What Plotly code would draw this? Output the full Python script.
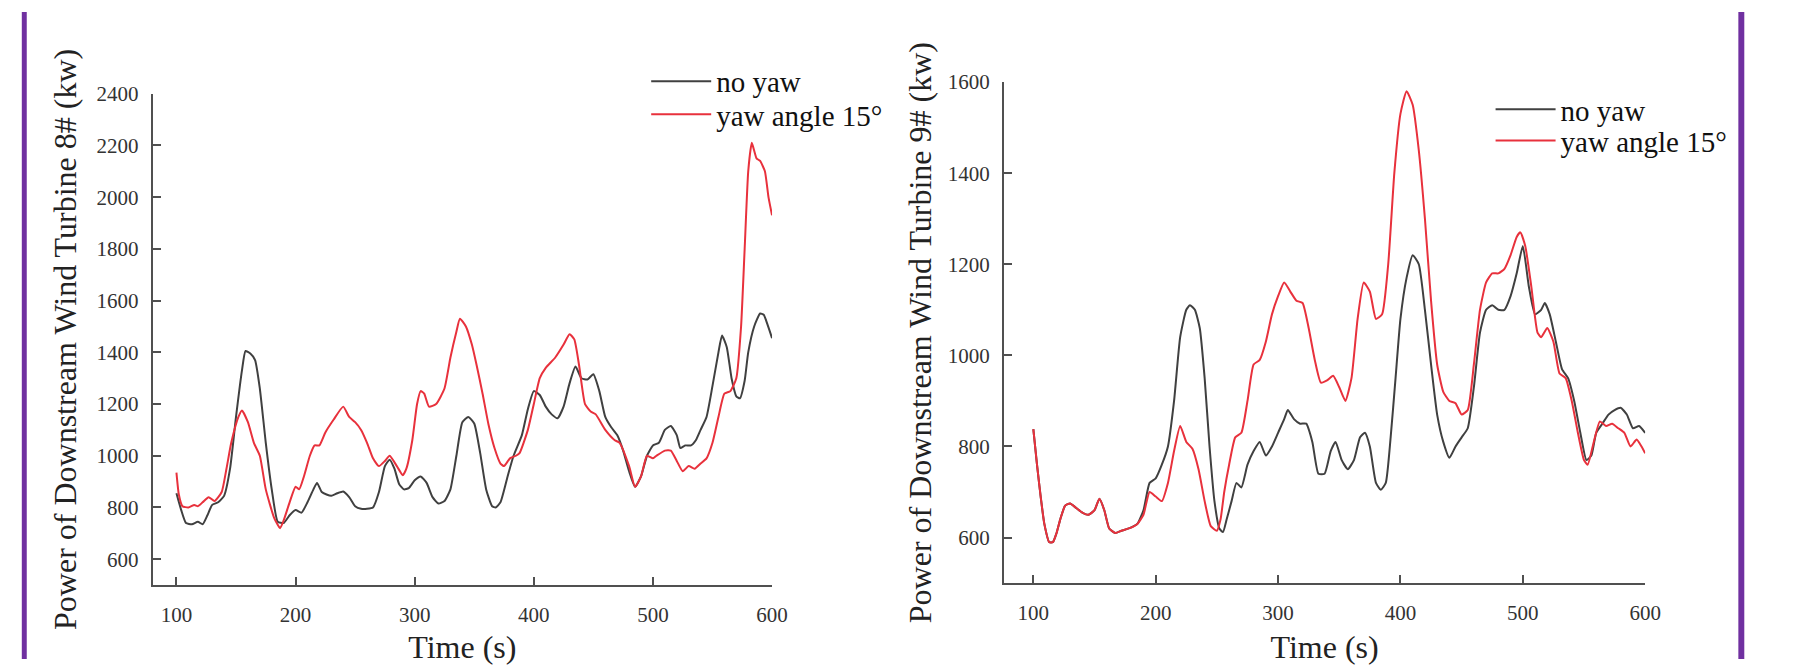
import plotly.graph_objects as go

# Turbine 8# power (kW) over time (s): (time, power) samples
t8_noyaw = [
    (100, 855), (104, 790), (108, 740), (113, 735), (118, 745), (122, 735), (126, 770),
    (130, 810), (135, 820), (140, 845), (145, 950), (150, 1150), (155, 1330), (158, 1405),
    (162, 1395), (166, 1370), (170, 1260), (175, 1050), (180, 870), (185, 745), (190, 740),
    (195, 770), (200, 790), (205, 780), (210, 820), (215, 870), (218, 895), (222, 860),
    (226, 850), (230, 845), (235, 855), (240, 862), (245, 840), (250, 805), (255, 795),
    (260, 795), (265, 800), (270, 860), (275, 960), (279, 985), (283, 950), (287, 890),
    (291, 870), (295, 875), (300, 905), (305, 920), (310, 895), (315, 840), (320, 815),
    (325, 825), (330, 870), (335, 1000), (340, 1130), (345, 1150), (350, 1125), (355, 1010),
    (360, 870), (365, 805), (368, 800), (372, 820), (378, 920), (383, 1000), (390, 1080),
    (395, 1180), (400, 1250), (405, 1235), (410, 1190), (415, 1160), (420, 1145), (425, 1190),
    (430, 1280), (435, 1345), (440, 1300), (445, 1295), (450, 1315), (455, 1250), (460, 1150),
    (465, 1110), (470, 1080), (475, 1020), (480, 940), (485, 880), (490, 920), (495, 1000),
    (500, 1040), (505, 1050), (510, 1100), (515, 1115), (520, 1080), (523, 1030), (527, 1040),
    (532, 1040), (536, 1060), (540, 1100), (545, 1150), (550, 1270), (555, 1400), (558, 1465),
    (562, 1420), (566, 1300), (570, 1230), (573, 1222), (577, 1290), (580, 1400), (585, 1500),
    (590, 1550), (593, 1545), (596, 1510), (600, 1455),
]
t8_yaw15 = [
    (100, 935), (102, 850), (105, 805), (110, 800), (115, 810), (118, 805), (122, 820),
    (127, 840), (132, 825), (138, 860), (142, 950), (146, 1050), (152, 1150), (155, 1175),
    (160, 1130), (165, 1050), (170, 1000), (175, 870), (182, 760), (187, 720), (190, 750),
    (195, 820), (200, 880), (203, 870), (207, 920), (212, 1000), (216, 1040), (220, 1040),
    (225, 1090), (232, 1140), (240, 1190), (245, 1150), (250, 1130), (255, 1100), (260, 1050),
    (265, 990), (270, 960), (275, 980), (279, 1000), (285, 960), (290, 925), (293, 950),
    (298, 1060), (302, 1200), (305, 1250), (308, 1240), (312, 1190), (318, 1200), (325, 1260),
    (330, 1380), (335, 1480), (338, 1530), (343, 1500), (348, 1430), (352, 1350), (357, 1240),
    (362, 1120), (367, 1030), (372, 970), (375, 960), (380, 990), (385, 1000), (388, 1010),
    (395, 1100), (400, 1200), (405, 1300), (410, 1340), (418, 1380), (425, 1430), (430, 1470),
    (434, 1450), (438, 1350), (443, 1200), (448, 1170), (452, 1160), (460, 1100), (468, 1060),
    (472, 1050), (480, 960), (485, 880), (490, 920), (495, 1000), (500, 990), (503, 1000),
    (510, 1020), (515, 1020), (520, 980), (525, 940), (530, 960), (535, 950), (540, 970),
    (545, 990), (550, 1050), (555, 1150), (560, 1240), (565, 1250), (570, 1300), (574, 1500),
    (577, 1800), (580, 2100), (583, 2210), (587, 2150), (590, 2140), (594, 2100), (597, 2000),
    (600, 1930),
]

# Turbine 9# power (kW) over time (s)
t9_noyaw = [
    (100, 838), (103, 760), (106, 690), (109, 630), (113, 590), (116, 590), (119, 610),
    (122, 640), (126, 670), (130, 675), (135, 665), (140, 655), (145, 650), (150, 660),
    (154, 685), (158, 660), (162, 620), (167, 610), (172, 615), (178, 620), (185, 630),
    (190, 660), (195, 720), (200, 730), (205, 760), (210, 800), (215, 900), (220, 1040),
    (225, 1100), (228, 1110), (232, 1100), (236, 1060), (240, 950), (244, 800), (248, 680),
    (252, 620), (255, 612), (258, 640), (262, 680), (266, 720), (270, 710), (275, 760),
    (280, 790), (285, 810), (290, 780), (295, 800), (300, 830), (305, 860), (308, 880),
    (313, 860), (318, 850), (323, 850), (328, 810), (333, 740), (338, 740), (343, 790),
    (347, 810), (352, 770), (357, 750), (362, 770), (367, 820), (371, 830), (375, 800),
    (380, 720), (384, 705), (388, 720), (392, 820), (396, 950), (400, 1080), (405, 1170),
    (410, 1220), (415, 1200), (420, 1100), (425, 980), (430, 870), (435, 810), (440, 775),
    (445, 800), (450, 820), (455, 840), (460, 930), (465, 1050), (470, 1100), (475, 1110),
    (480, 1100), (485, 1100), (490, 1130), (495, 1180), (500, 1240), (505, 1150), (510, 1090),
    (515, 1100), (518, 1115), (522, 1090), (527, 1030), (532, 970), (537, 950), (542, 900),
    (547, 830), (552, 770), (556, 780), (560, 830), (565, 850), (570, 870), (575, 880),
    (580, 885), (585, 870), (590, 840), (595, 845), (600, 830),
]
t9_yaw15 = [
    (100, 838), (103, 760), (106, 690), (109, 630), (113, 590), (116, 590), (119, 610),
    (122, 640), (126, 670), (130, 675), (135, 665), (140, 655), (145, 650), (150, 660),
    (154, 685), (158, 660), (162, 620), (167, 610), (172, 615), (178, 620), (185, 630),
    (190, 650), (195, 700), (200, 690), (205, 680), (210, 720), (215, 790), (220, 845),
    (225, 810), (230, 795), (235, 750), (240, 680), (245, 625), (250, 615), (253, 640),
    (256, 700), (260, 760), (265, 820), (270, 830), (275, 900), (280, 980), (285, 990),
    (290, 1030), (295, 1090), (300, 1130), (305, 1160), (310, 1140), (315, 1120), (320, 1115),
    (325, 1060), (330, 990), (335, 940), (340, 945), (345, 955), (350, 930), (355, 900),
    (360, 950), (365, 1080), (370, 1160), (375, 1140), (380, 1080), (385, 1090), (390, 1200),
    (395, 1400), (400, 1530), (405, 1580), (410, 1550), (415, 1450), (420, 1300), (425, 1120),
    (430, 980), (435, 920), (440, 900), (445, 895), (450, 870), (455, 880), (460, 980),
    (465, 1100), (470, 1160), (475, 1180), (480, 1180), (485, 1190), (490, 1220), (495, 1260),
    (498, 1270), (502, 1240), (507, 1150), (512, 1050), (515, 1040), (520, 1060), (525, 1030),
    (530, 960), (535, 950), (540, 900), (545, 830), (550, 770), (553, 760), (558, 810),
    (563, 855), (568, 845), (573, 850), (578, 840), (583, 830), (588, 800), (593, 815),
    (597, 800), (600, 785),
]

series_names = ["no yaw", "yaw angle 15°"]
series_colors = ["#404040", "#e8313c"]
x_ticks = [100, 200, 300, 400, 500, 600]
y_ticks_8 = [600, 800, 1000, 1200, 1400, 1600, 1800, 2000, 2200, 2400]
y_ticks_9 = [600, 800, 1000, 1200, 1400, 1600]

W, H = 1793, 665
SERIF = "Liberation Serif, Times New Roman, serif"
AXIS_COLOR = "#505050"

fig = go.Figure()


def add_series(data, name, color, xa, ya, legend):
    fig.add_trace(go.Scatter(
        x=[p[0] for p in data], y=[p[1] for p in data],
        mode="lines", name=name, showlegend=True,
        line=dict(color=color, width=2, shape="spline", smoothing=0.5),
        xaxis=xa, yaxis=ya, legend=legend,
    ))


# each legend entry gets its own legend box so rows can be spaced tightly
add_series(t8_noyaw, series_names[0], series_colors[0], "x", "y", "legend")
add_series(t8_yaw15, series_names[1], series_colors[1], "x", "y", "legend2")
add_series(t9_noyaw, series_names[0], series_colors[0], "x2", "y2", "legend3")
add_series(t9_yaw15, series_names[1], series_colors[1], "x2", "y2", "legend4")

tick_font = dict(family=SERIF, size=21, color="#333333")
title_font = dict(family=SERIF, size=32, color="#222222")
legend_font = dict(family=SERIF, size=29, color="#111111")

common_x = dict(
    tickvals=x_ticks, ticks="inside", ticklen=8, tickwidth=2, tickcolor=AXIS_COLOR,
    showline=True, linecolor=AXIS_COLOR, linewidth=2, showgrid=False, zeroline=False,
    tickfont=tick_font, ticklabelstandoff=10,
    title=dict(text="Time (s)", font=title_font, standoff=15),
)
common_y = dict(
    ticks="inside", ticklen=8, tickwidth=2, tickcolor=AXIS_COLOR,
    showline=True, linecolor=AXIS_COLOR, linewidth=2, showgrid=False, zeroline=False,
    tickfont=tick_font, ticklabelstandoff=8,
)


def legend_box(x_px, top_px):
    return dict(x=x_px / W, y=(H - top_px) / H, xanchor="left", yanchor="top",
                bgcolor="rgba(0,0,0,0)", itemwidth=60, font=legend_font)


fig.update_layout(
    width=W, height=H, showlegend=True,
    margin=dict(l=0, r=0, t=0, b=0, pad=0),
    paper_bgcolor="white", plot_bgcolor="white",
    xaxis=dict(common_x, domain=[154 / W, 779 / W], range=[80, 600], anchor="y"),
    yaxis=dict(common_y, domain=[(H - 589) / H, (H - 84) / H], range=[500, 2400],
               tickvals=y_ticks_8, anchor="x",
               title=dict(text="Power of Downstream Wind Turbine 8# (kw)",
                          font=title_font, standoff=10)),
    xaxis2=dict(common_x, domain=[1013 / W, 1660 / W], range=[76, 600], anchor="y2"),
    yaxis2=dict(common_y, domain=[(H - 587) / H, (H - 72) / H], range=[500, 1600],
                tickvals=y_ticks_9, anchor="x2",
                title=dict(text="Power of Downstream Wind Turbine 9# (kw)",
                           font=title_font, standoff=7)),
    legend=legend_box(652, 45),
    legend2=legend_box(652, 79),
    legend3=legend_box(1504, 74),
    legend4=legend_box(1504, 106),
)

# purple frame edges on both sides of the figure
for x0, x1 in [(22, 27), (1754, 1760)]:
    fig.add_shape(type="rect", xref="paper", yref="paper",
                  x0=x0 / W, x1=x1 / W, y0=0, y1=1,
                  fillcolor="#7030A0", line=dict(width=0), layer="above")

fig.write_html("out.html")
